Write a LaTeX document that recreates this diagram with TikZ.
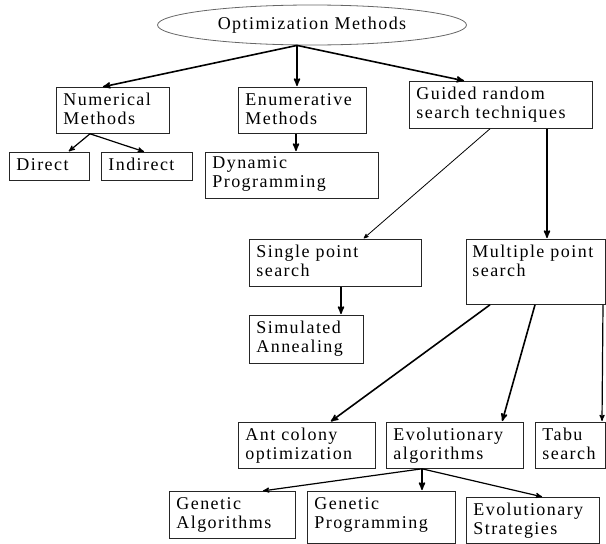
\documentclass[tikz,border=0pt]{standalone}
\usepackage{fontspec}
\setmainfont{Liberation Serif}[LetterSpace=8]
\usepackage{tikz}
\usetikzlibrary{arrows, shapes.geometric}

\begin{document}
\begin{tikzpicture}[-,>=stealth',shorten >=1pt,auto,x=1pt,y=-1pt,
  line width=1.2pt,
  main node/.style={ellipse,draw=black!60,line width=0.8pt,minimum width=309pt,minimum height=40pt,inner sep=0pt,font=\fontsize{18}{19}\selectfont},
  box node/.style={rectangle,draw=black!85,line width=0.8pt,anchor=north west,align=left,inner xsep=7pt,inner ysep=0pt,text height=18pt,font=\fontsize{18}{19}\selectfont}]

	\useasboundingbox (0,0) rectangle (606,544);

	\node[main node] (1) at (312,25) {Optimization Methods};
	\node[box node, text width=99pt, text depth=28pt] (2) at (56,87) {Numerical\\Methods};
	\node[box node, text width=114pt, text depth=28pt] (3) at (238,87) {Enumerative\\Methods};
	\node[box node, text width=169pt, text depth=29pt] (4) at (409,81) {Guided~random\\search~techniques};
	\node[box node, text width=66pt, text depth=10pt] (5) at (9,152) {Direct};
	\node[box node, text width=77pt, text depth=10pt] (6) at (101,152) {Indirect};
	\node[box node, text width=159pt, text height=16pt, text depth=30pt] (7) at (205,152) {Dynamic\\Programming};
	\node[box node, text width=158pt, text depth=29pt] (8) at (249,239) {Single~point\\search};
	\node[box node, inner xsep=6pt, text width=127pt, text depth=47pt] (9) at (466,239) {Multiple~point\\search};
	\node[box node, text width=100pt, text depth=30pt] (10) at (249,315) {Simulated\\Annealing};
	\node[box node, text width=123pt, text depth=28pt] (11) at (238,422) {Ant~colony\\optimization};
	\node[box node, text width=123pt, text depth=28pt] (12) at (386,422) {Evolutionary\\algorithms};
	\node[box node, text width=56pt, text depth=28pt] (13) at (535,422) {Tabu\\search};
	\node[box node, text width=112pt, text depth=29pt] (14) at (169,491) {Genetic\\Algorithms};
	\node[box node, text width=134pt, text depth=34pt] (15) at (307,491) {Genetic\\Programming};
	\node[box node, text width=119pt, text depth=28pt] (16) at (466,497) {Evolutionary\\Strategies};

	\path ([xshift=-15pt]1.south) edge [->, line width=1.6pt] ([xshift=46pt]2.north west);
	\path ([xshift=-15pt]1.south) edge [->, line width=1.6pt] ([xshift=59pt]3.north west);
	\path ([xshift=-15pt]1.south) edge [->, line width=1.6pt] ([xshift=56pt]4.north west);
	\path ([xshift=34pt]2.south west) edge [->] ([xshift=59pt]5.north west);
	\path ([xshift=34pt]2.south west) edge [->] ([xshift=44pt]6.north west);
	\path ([xshift=58pt]3.south west) edge [->, line width=1.6pt] ([xshift=91pt]7.north west);
	\path ([xshift=81pt]4.south west) edge [->, line width=0.8pt] ([xshift=114pt]8.north west);
	\path ([xshift=138pt]4.south west) edge [->, line width=1.6pt] ([xshift=81pt]9.north west);
	\path ([xshift=92pt]8.south west) edge [->, line width=1.6pt] ([xshift=92pt]10.north west);
	\path ([xshift=24pt]9.south west) edge [->, line width=1.6pt] ([xshift=92pt]11.north west);
	\path ([xshift=69pt]9.south west) edge [->, line width=1.6pt] ([xshift=116pt]12.north west);
	\path ([xshift=137pt]9.south west) edge [->] ([xshift=67pt]13.north west);
	\path ([xshift=36pt]12.south west) edge [->] ([xshift=93pt]14.north west);
	\path ([xshift=36pt]12.south west) edge [->, line width=1.6pt] ([xshift=115pt]15.north west);
	\path ([xshift=36pt]12.south west) edge [->] ([xshift=77pt]16.north west);

\end{tikzpicture}
\end{document}
